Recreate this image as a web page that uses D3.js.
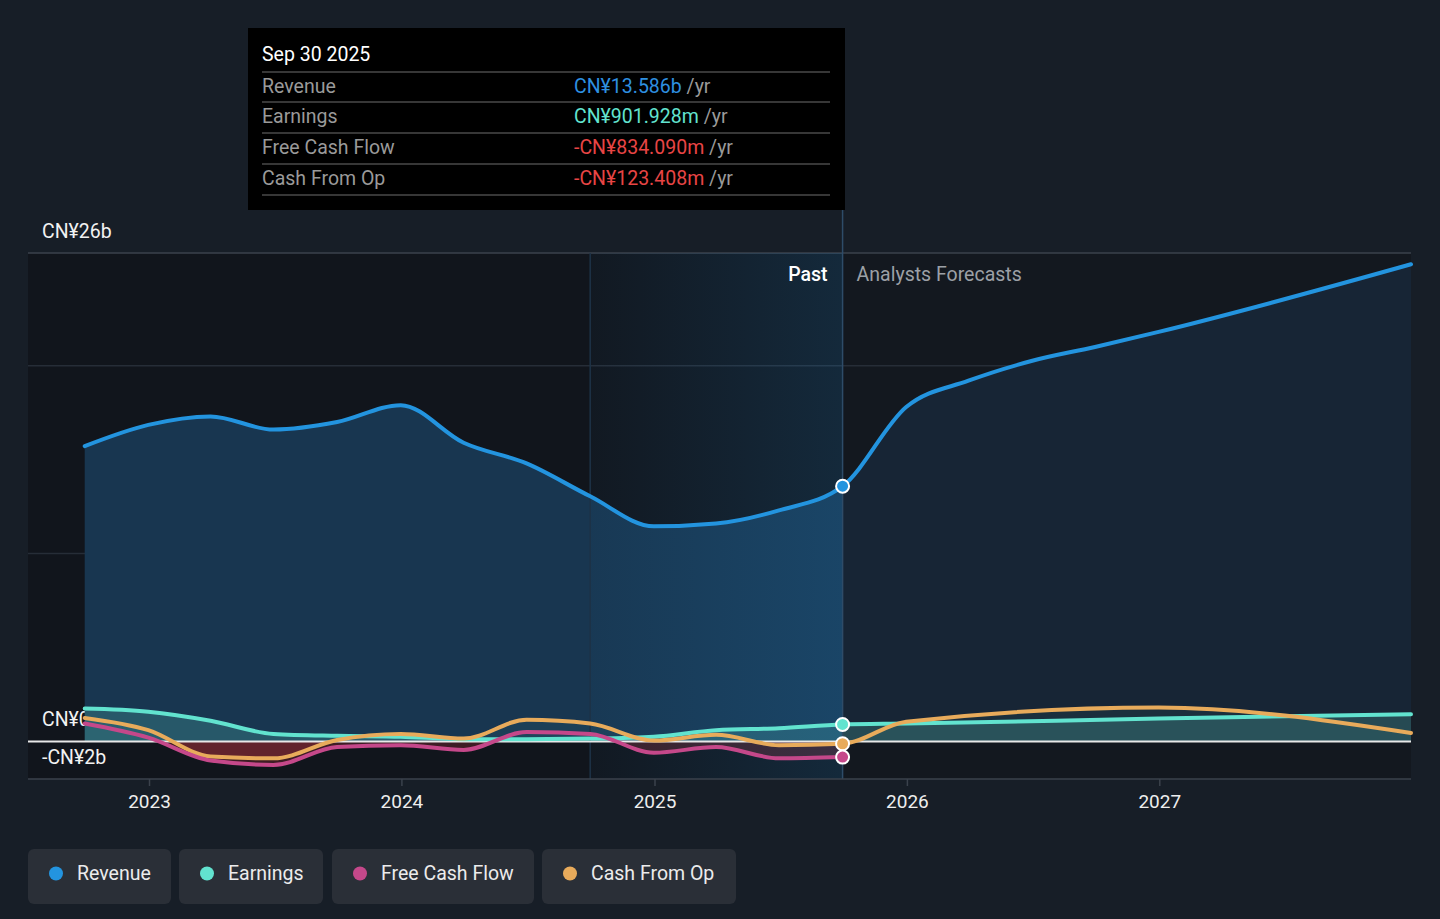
<!DOCTYPE html>
<html>
<head>
<meta charset="utf-8">
<style>
  body { margin: 0; background: #171e27; }
  svg { display: block; font-family: Roboto, "Noto Sans", sans-serif; }
</style>
<script src="https://cdn.jsdelivr.net/npm/d3@7"></script>
</head>
<body>
<div class="chart"></div>
<script>
// quarterly history, values in CN¥ billions
const pastDates = ['2022-09-30', '2022-12-31', '2023-03-31', '2023-06-30', '2023-09-30', '2023-12-31',
  '2024-03-31', '2024-06-30', '2024-09-30', '2024-12-31', '2025-03-31', '2025-06-30', '2025-09-30'];
const revenuePast = [15.72, 16.85, 17.3, 16.6, 17.0, 17.9, 15.9, 14.8, 13.05, 11.45, 11.6, 12.3, 13.586];
const earningsPast = [1.75, 1.58, 1.1, 0.4, 0.3, 0.25, 0.12, 0.12, 0.15, 0.25, 0.6, 0.7, 0.902];
const fcfPast = [0.95, 0.2, -1.02, -1.25, -0.3, -0.2, -0.45, 0.5, 0.4, -0.6, -0.3, -0.9, -0.834];
const cfoPast = [1.25, 0.6, -0.8, -0.9, 0.08, 0.4, 0.15, 1.15, 0.95, 0.05, 0.35, -0.2, -0.123];

// analyst forecasts
const revenueFcstDates = ['2025-12-31', '2026-03-31', '2026-06-30', '2026-09-30', '2026-12-31', '2027-12-31'];
const revenueFcst = [17.8, 19.2, 20.25, 21.0, 21.8, 25.4];
const annualFcstDates = ['2025-12-31', '2026-12-31', '2027-12-31'];
const earningsFcst = [0.95, 1.22, 1.45];
const cfoFcst = [1.05, 1.8, 0.45];

const yTicks = [-2, 0, 10, 20, 26];
const yLabels = { '-2': '-CN¥2b', '0': 'CN¥0', '26': 'CN¥26b' };
const yLabelBaseline = { '-2': 764, '0': 726, '26': 238 };
const xTickYears = [2023, 2024, 2025, 2026, 2027];

const tooltipTitle = 'Sep 30 2025';
const tooltipRows = [
  { label: 'Revenue', value: 'CN¥13.586b', color: '#2e90e0' },
  { label: 'Earnings', value: 'CN¥901.928m', color: '#62e3cf' },
  { label: 'Free Cash Flow', value: '-CN¥834.090m', color: '#e84545' },
  { label: 'Cash From Op', value: '-CN¥123.408m', color: '#e84545' }
];

const legendItems = ['Revenue', 'Earnings', 'Free Cash Flow', 'Cash From Op'];
const colors = { 'Revenue': '#2394df', 'Earnings': '#62e3cf', 'Free Cash Flow': '#c5488a', 'Cash From Op': '#e8ab5b' };

const parse = d3.timeParse('%Y-%m-%d');
const W = 1440, H = 919;
const FS = 19.5;
const plot = { left: 28, right: 1411, top: 253, bottom: 779 };

const svg = d3.select('.chart').append('svg').attr('width', W).attr('height', H);
svg.append('rect').attr('width', W).attr('height', H).attr('fill', '#171e27');

const x = d3.scaleTime()
  .domain([parse('2022-07-10'), parse('2027-12-31')])
  .range([plot.left, plot.right]);
const y = d3.scaleLinear().domain([-2, 26]).range([plot.bottom, plot.top]);

const splitDate = parse('2025-09-30');
const xSplit = x(splitDate);
const xBandStart = x(parse('2024-09-30'));

function series(dates, vals) {
  return dates.map((d, i) => ({ date: parse(d), v: vals[i] }));
}
const revenue = series(pastDates, revenuePast).concat(series(revenueFcstDates, revenueFcst));
const earnings = series(pastDates, earningsPast).concat(series(annualFcstDates, earningsFcst));
const fcf = series(pastDates, fcfPast);
const cfo = series(pastDates, cfoPast).concat(series(annualFcstDates, cfoFcst));

const defs = svg.append('defs');
function clip(id, x0, y0, x1, y1) {
  defs.append('clipPath').attr('id', id).append('rect')
    .attr('x', x0).attr('y', y0).attr('width', x1 - x0).attr('height', y1 - y0);
}
clip('past', plot.left, 0, xSplit, H);
clip('fcst', xSplit, 0, plot.right, H);
clip('pos', 0, 0, W, y(0));
clip('neg', 0, y(0), W, H);

const band = defs.append('linearGradient').attr('id', 'band');
band.append('stop').attr('offset', '0%').attr('stop-color', '#2394df').attr('stop-opacity', 0.03);
band.append('stop').attr('offset', '100%').attr('stop-color', '#2394df').attr('stop-opacity', 0.16);

// plot backgrounds
svg.append('rect').attr('x', plot.left).attr('y', plot.top)
  .attr('width', xSplit - plot.left).attr('height', plot.bottom - plot.top).attr('fill', '#11151c');
svg.append('rect').attr('x', xSplit).attr('y', plot.top)
  .attr('width', plot.right - xSplit).attr('height', plot.bottom - plot.top).attr('fill', '#13181f');

// gridlines
svg.append('g').selectAll('line').data(yTicks.filter(t => t > 0)).enter().append('line')
  .attr('x1', plot.left).attr('x2', plot.right)
  .attr('y1', d => y(d)).attr('y2', d => y(d))
  .attr('stroke', d => d === 26 ? '#3b424c' : '#262d37').attr('stroke-width', 1.5);

// y labels (sit underneath the areas)
svg.append('g').selectAll('text').data(yTicks.filter(t => yLabels[t])).enter().append('text')
  .attr('x', 42).attr('y', d => yLabelBaseline[d])
  .attr('fill', '#f2f2f2').attr('font-size', FS)
  .text(d => yLabels[d]);

const areaTo0 = d3.area().curve(d3.curveMonotoneX)
  .x(d => x(d.date)).y0(y(0)).y1(d => y(d.v));
const line = d3.line().curve(d3.curveMonotoneX)
  .x(d => x(d.date)).y(d => y(d.v));

// revenue areas
svg.append('path').datum(revenue).attr('d', areaTo0).attr('fill', '#183650').attr('clip-path', 'url(#past)');
svg.append('path').datum(revenue).attr('d', areaTo0).attr('fill', '#172535').attr('clip-path', 'url(#fcst)');

// small series areas, positive part tinted, negative part red
[[earnings, 0.2], [cfo, 0.06], [fcf, 0.04]].forEach(([s, op]) => {
  svg.append('path').datum(s).attr('d', areaTo0)
    .attr('fill', '#62e3cf').attr('fill-opacity', op).attr('clip-path', 'url(#pos)');
});
[cfo, fcf].forEach(s => {
  svg.append('path').datum(s).attr('d', areaTo0)
    .attr('fill', '#e03a4a').attr('fill-opacity', 0.22).attr('clip-path', 'url(#neg)');
});

// highlighted last year
svg.append('rect').attr('x', xBandStart).attr('y', plot.top)
  .attr('width', xSplit - xBandStart).attr('height', plot.bottom - plot.top).attr('fill', 'url(#band)');
svg.append('line').attr('x1', xBandStart).attr('x2', xBandStart).attr('y1', plot.top).attr('y2', plot.bottom)
  .attr('stroke', '#1d3347').attr('stroke-width', 1.5);
svg.append('line').attr('x1', xSplit).attr('x2', xSplit).attr('y1', 210).attr('y2', plot.bottom)
  .attr('stroke', '#2e4c68').attr('stroke-width', 1.5);

// zero line and bottom axis
svg.append('line').attr('x1', plot.left).attr('x2', plot.right).attr('y1', y(0)).attr('y2', y(0))
  .attr('stroke', '#e8e8e8').attr('stroke-width', 2);

const xAxis = d3.axisBottom(x)
  .tickValues(xTickYears.map(yr => new Date(yr, 0, 1)))
  .tickFormat(d3.timeFormat('%Y'))
  .tickSize(7).tickPadding(9);
const gX = svg.append('g').attr('transform', `translate(0,${plot.bottom})`).call(xAxis);
gX.select('.domain').remove();
gX.selectAll('line').attr('stroke', '#3b424c').attr('stroke-width', 1.5);
gX.selectAll('text').attr('fill', '#eeeeee').attr('font-size', 19).attr('font-family', 'Roboto');
svg.append('line').attr('x1', plot.left).attr('x2', plot.right).attr('y1', plot.bottom).attr('y2', plot.bottom)
  .attr('stroke', '#3b424c').attr('stroke-width', 1.5);

// lines, back to front
[[earnings, 'Earnings'], [cfo, 'Cash From Op'], [fcf, 'Free Cash Flow'], [revenue, 'Revenue']].forEach(([s, name]) => {
  svg.append('path').datum(s).attr('d', line)
    .attr('fill', 'none').attr('stroke', colors[name]).attr('stroke-width', 4)
    .attr('stroke-linejoin', 'round').attr('stroke-linecap', 'round');
});

// markers at the last reported quarter
const lastIdx = pastDates.length - 1;
[['Revenue', revenuePast], ['Earnings', earningsPast], ['Cash From Op', cfoPast], ['Free Cash Flow', fcfPast]]
  .forEach(([name, vals]) => {
    svg.append('circle').attr('cx', xSplit).attr('cy', y(vals[lastIdx])).attr('r', 6.5)
      .attr('fill', colors[name]).attr('stroke', '#ffffff').attr('stroke-width', 2);
  });

// past / forecast labels
svg.append('text').attr('x', xSplit - 15).attr('y', 281).attr('text-anchor', 'end')
  .attr('fill', '#ffffff').attr('font-size', FS).attr('font-weight', 500).text('Past');
svg.append('text').attr('x', xSplit + 14).attr('y', 281)
  .attr('fill', '#9ca0a6').attr('font-size', FS).text('Analysts Forecasts');

// tooltip
const tip = svg.append('g');
tip.append('rect').attr('x', 248).attr('y', 28).attr('width', 597).attr('height', 182).attr('fill', '#000000');
tip.append('text').attr('x', 262).attr('y', 61).attr('fill', '#ffffff').attr('font-size', FS).text(tooltipTitle);
const sepY = [72, 102, 133, 164, 195];
tip.selectAll('line').data(sepY).enter().append('line')
  .attr('x1', 262).attr('x2', 830).attr('y1', d => d).attr('y2', d => d)
  .attr('stroke', '#4a4a4a').attr('stroke-width', 1.5);
tooltipRows.forEach((r, i) => {
  const by = sepY[i] + 21;
  tip.append('text').attr('x', 262).attr('y', by).attr('fill', '#9a9a9a').attr('font-size', FS).text(r.label);
  const t = tip.append('text').attr('x', 574).attr('y', by).attr('font-size', FS);
  t.append('tspan').attr('fill', r.color).text(r.value);
  t.append('tspan').attr('fill', '#9a9a9a').text(' /yr');
});

// legend buttons
const legendX = [28, 179, 332, 542];
const legendW = [143, 144, 202, 194];
const lg = svg.append('g').selectAll('g').data(legendItems).enter().append('g')
  .attr('transform', (d, i) => `translate(${legendX[i]},849)`);
lg.append('rect').attr('width', (d, i) => legendW[i]).attr('height', 55).attr('rx', 6).attr('fill', '#2a2f37');
lg.append('circle').attr('cx', 28).attr('cy', 24.5).attr('r', 7).attr('fill', d => colors[d]);
lg.append('text').attr('x', 49).attr('y', 31).attr('fill', '#ececec').attr('font-size', FS).text(d => d);
</script>
</body>
</html>
